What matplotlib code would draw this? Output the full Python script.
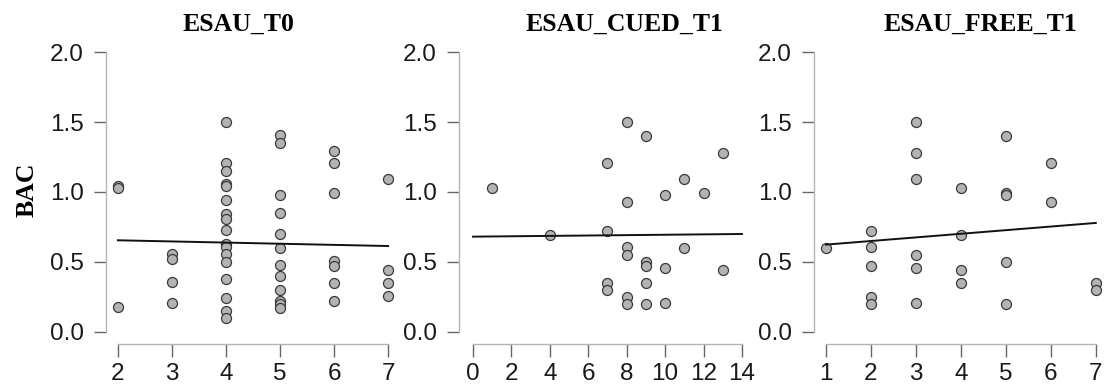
import matplotlib.pyplot as plt
import numpy as np

### DATA

titles = ["ESAU_T0", "ESAU_CUED_T1", "ESAU_FREE_T1"]

# ESAU_T0
x_t0 = [2, 2, 2,
        3, 3, 3, 3,
        4, 4, 4, 4, 4, 4, 4, 4, 4, 4, 4, 4, 4, 4, 4, 4, 4,
        5, 5, 5, 5, 5, 5, 5, 5, 5, 5, 5, 5,
        6, 6, 6, 6, 6, 6, 6,
        7, 7, 7, 7]
y_t0 = [1.04, 1.03, 0.18,
        0.56, 0.52, 0.36, 0.21,
        1.50, 1.21, 1.15, 1.06, 1.04, 0.94, 0.84, 0.81, 0.73, 0.63, 0.61, 0.56, 0.50, 0.38, 0.24, 0.15, 0.10,
        1.41, 1.35, 0.98, 0.85, 0.70, 0.60, 0.48, 0.40, 0.30, 0.22, 0.20, 0.17,
        1.29, 1.21, 0.99, 0.51, 0.47, 0.35, 0.22,
        1.09, 0.44, 0.35, 0.26]

# ESAU_CUED_T1
x_cued = [1, 4,
          7, 7, 7, 7,
          8, 8, 8, 8, 8, 8,
          9, 9, 9, 9, 9,
          10, 10, 10,
          11, 11, 12, 13, 13]
y_cued = [1.03, 0.69,
          1.21, 0.72, 0.35, 0.30,
          1.50, 0.93, 0.61, 0.55, 0.25, 0.20,
          1.40, 0.50, 0.47, 0.35, 0.20,
          0.98, 0.46, 0.21,
          1.09, 0.60, 0.99, 1.28, 0.44]

# ESAU_FREE_T1
x_free = [1,
          2, 2, 2, 2, 2,
          3, 3, 3, 3, 3, 3,
          4, 4, 4, 4,
          5, 5, 5, 5, 5,
          6, 6,
          7, 7]
y_free = [0.60,
          0.72, 0.61, 0.47, 0.25, 0.20,
          1.50, 1.28, 1.09, 0.55, 0.46, 0.21,
          1.03, 0.69, 0.44, 0.35,
          1.40, 0.99, 0.98, 0.50, 0.20,
          1.21, 0.93,
          0.35, 0.30]

# regression line ends (x range and fitted y at each end)
fit_x = [(2, 7), (0, 14), (1, 7)]
fit_y = [(0.655, 0.614), (0.681, 0.700), (0.624, 0.779)]

x_ticks = [[2, 3, 4, 5, 6, 7], list(range(0, 15, 2)), [1, 2, 3, 4, 5, 6, 7]]
y_ticks = [0.0, 0.5, 1.0, 1.5, 2.0]

### LAYOUT (pixels of a 1104x389 canvas)
W, H = 1104, 389
# left px, right px, xlim
panels = [(106, 400, (1.78, 7.22)),
          (459, 755, (-0.73, 14.68)),
          (814, 1103, (0.733, 7.16))]
title_px = [238, 624, 980]
bottom_px, top_px = 344, 40

fig = plt.figure(figsize=(W / 100, H / 100), dpi=100)

xs = [x_t0, x_cued, x_free]
ys = [y_t0, y_cued, y_free]

for i, (left, right, xl) in enumerate(panels):
    ax = fig.add_axes([left / W, 1 - bottom_px / H, (right - left) / W, (bottom_px - top_px) / H])
    ax.set_xlim(*xl)
    ax.set_ylim(-0.086, 2.086)

    ax.scatter(xs[i], ys[i], s=52, facecolor="#b3b3b3", edgecolor="#3a3a3a",
               linewidth=0.9, zorder=3, clip_on=False)
    ax.plot(fit_x[i], fit_y[i], color="#111111", lw=1.4, zorder=4, clip_on=False)

    for side in ["top", "right"]:
        ax.spines[side].set_visible(False)
    for side in ["left", "bottom"]:
        ax.spines[side].set_color("#b5b5b5")
        ax.spines[side].set_linewidth(1.0)
    ax.spines["left"].set_bounds(0, 2)
    ax.spines["bottom"].set_bounds(x_ticks[i][0], x_ticks[i][-1])

    ax.set_xticks(x_ticks[i])
    ax.set_yticks(y_ticks)
    ax.set_yticklabels([f"{v:.1f}" for v in y_ticks])
    ax.tick_params(axis="both", length=9, width=1.0, color="#666666",
                   labelsize=17.5, labelcolor="#1a1a1a")
    ax.tick_params(axis="y", pad=7)
    ax.tick_params(axis="x", pad=5)
    for lab in ax.get_xticklabels() + ax.get_yticklabels():
        lab.set_fontfamily("Liberation Sans")

    fig.text(title_px[i] / W, 1 - 24 / H, titles[i], ha="center", va="center",
             fontsize=18.5, fontweight="bold", family="Liberation Serif")

fig.text(27 / W, 1 - 190 / H, "BAC", rotation=90, ha="center", va="center",
         fontsize=18.5, fontweight="bold", family="Liberation Serif")

fig.savefig("out.png", dpi=100)
